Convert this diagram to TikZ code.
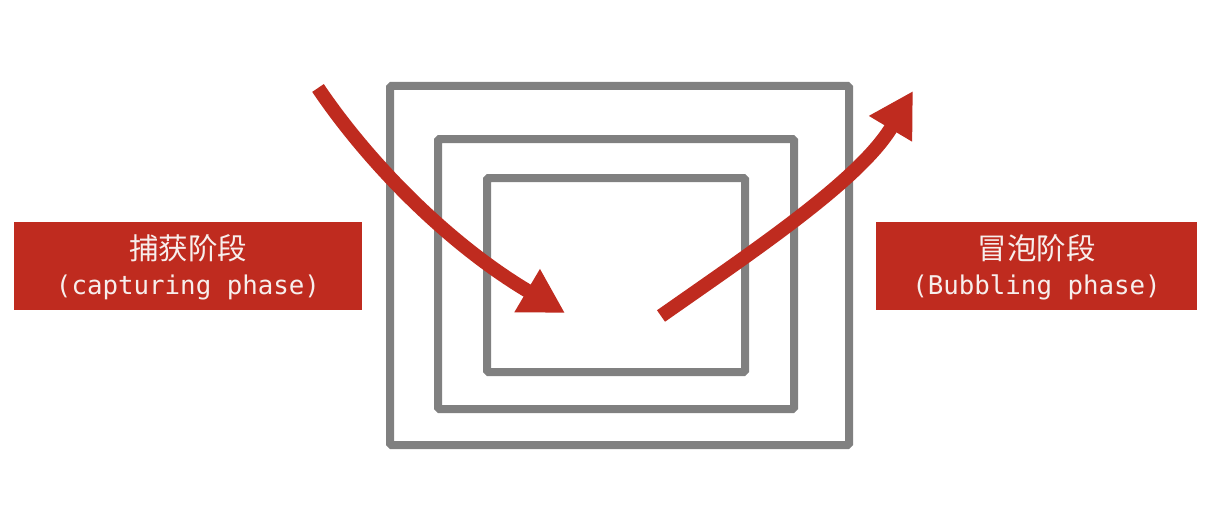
\documentclass[tikz,border=0pt]{standalone}
\usepackage{fontspec}
\newfontfamily\cjk{Noto Sans CJK SC}
\newfontfamily\monof{DejaVu Sans Mono}
\usetikzlibrary{arrows.meta}
\definecolor{phasered}{HTML}{BF2B1F}
\definecolor{framegray}{HTML}{808080}
\definecolor{lighttext}{HTML}{F7EEEC}
\tikzset{
  phasebox/.style={fill=phasered, draw=none, minimum width=348pt, minimum height=88pt, inner sep=0pt},
  cntitle/.style={text=lighttext, font=\cjk\fontsize{29.5}{32}\selectfont, inner sep=0pt},
  entitle/.style={text=lighttext, font=\monof\fontsize{25.8}{28}\selectfont, inner sep=0pt},
  frame/.style={draw=framegray, line width=8pt, rounded corners=1.5pt},
  flow/.style={draw=phasered, line width=14pt, -{Triangle[length=44pt,width=47pt]}}
}
\begin{document}
\begin{tikzpicture}[x=1pt,y=-1pt]
\useasboundingbox (0,0) rectangle (1214,516);
\fill[white] (0,0) rectangle (1214,516);
% frames
\draw[frame] (390,86) rectangle (849,445);
\draw[frame] (438,139) rectangle (794,409);
\draw[frame] (487,178) rectangle (745,372);
% boxes
\node[phasebox] (cap) at (188,266) {};
\node[cntitle] (capcn) at (188,248) {捕获阶段};
\node[entitle] (capen) at (188,287) {(capturing phase)};
\node[phasebox, minimum width=321pt] (bub) at (1036.5,266) {};
\node[cntitle] (bubcn) at (1036.5,248) {冒泡阶段};
\node[entitle] (buben) at (1036.5,287) {(Bubbling phase)};
% arrows
\coordinate (cs) at (318,88);
\coordinate (ce) at (565,313);
\coordinate (bs) at (661,316);
\coordinate (be) at (913,91);
\draw[flow] (cs) .. controls (370,165) and (450,245) .. (ce);
\draw[flow] (bs) .. controls (755,250) and (860,180) .. (be);
\end{tikzpicture}
\end{document}
